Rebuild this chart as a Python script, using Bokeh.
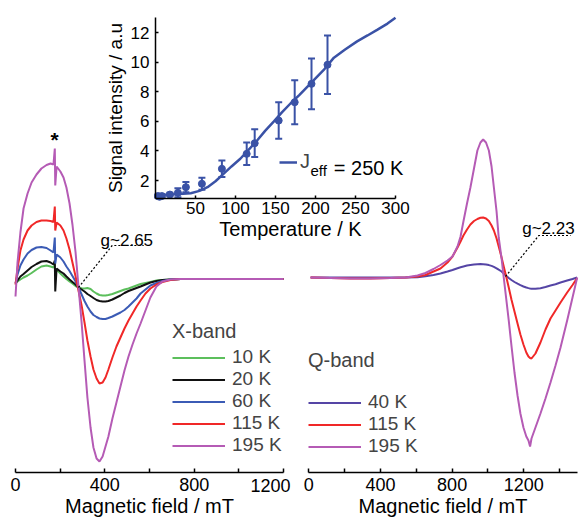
from bokeh.plotting import figure
from bokeh.models import (Range1d, LinearAxis, FixedTicker, Legend, LegendItem,
                          Label, Whisker, TeeHead, ColumnDataSource)
from bokeh.embed import file_html
from bokeh.resources import INLINE

# ---------------- data: X-band (left panel), field in mT, intensity in a.u. ----------------
xband_field = [0, 9, 22, 36, 54, 72, 94, 116, 139, 157,
               170, 176, 178, 184, 201, 215, 228, 242, 255, 269,
               282, 296, 309, 322, 336, 349, 363, 376, 390, 403,
               416, 434, 452, 470, 488, 506, 524, 542, 560, 582,
               604, 631, 658, 694, 739, 828, 963, 1097, 1200]
xband_10K = [-5, -3, -1, 1, 3, 5.5, 9, 12, 13, 12,
             11, 14, 5, 9, 5, 2, -0.5, -3, -5, -7.5,
             -9, -9.8, -10, -9.5, -10.5, -13, -15, -16.5, -17, -17,
             -16.5, -15.5, -14, -12.5, -11, -10, -8.5, -7, -5.5, -4.5,
             -3.5, -2, -1.5, -1, -0.5, -0.5, -0.5, -0.5, -0.5]
xband_20K = [-5, -2, 2, 4.5, 8, 11.5, 14.5, 17, 17.5, 16,
             14, 18, -13, 10, 7, 5, 2, -1, -3.5, -6,
             -9, -11, -13, -15.5, -17.5, -19.5, -21.5, -22.5, -23, -23,
             -22.5, -21, -19, -17, -14.5, -12.5, -11, -9.5, -8, -6,
             -4, -2.5, -1.5, -1, -0.5, -0.5, -0.5, -0.5, -0.5]
xband_60K = [-5, 4, 13, 19, 25, 28.5, 31, 31.5, 30.5, 28,
             26, 41, 15, 24, 21, 17, 12, 7.5, 2.5, -3,
             -9, -16, -22.5, -28, -33, -36.5, -38.5, -40, -40.5, -40.5,
             -39.5, -38, -36, -34, -31.5, -28, -24, -20, -15, -11,
             -7, -4.5, -2.5, -1, -0.5, -0.5, -0.5, -0.5, -0.5]
xband_115K = [-6, 10, 28, 39, 48, 53, 56.5, 58, 58, 57.5,
              56.5, 72, 48, 56, 53, 48, 40, 29, 16, 2,
              -12, -27, -44, -62, -78, -91, -100, -105, -104, -99,
              -91, -79, -68, -59, -50, -42, -35, -28, -22, -15,
              -10, -6, -3.5, -1.5, -0.5, -0.5, -0.5, -0.5, -0.5]
xband_195K = [-18, 16, 46, 70, 85, 96, 104, 110, 113.5, 115,
              114, 130, 93, 112, 107, 101, 91, 75, 54, 26,
              -8, -44, -82, -119, -149, -169, -180, -183, -178, -168,
              -158, -140, -124, -108, -92, -78, -66, -55, -45, -32,
              -19, -8, -3, -1, -0.5, -0.5, -0.5, -0.5, -0.5]

# ---------------- data: Q-band (right panel) ----------------
qband_field = [10, 121, 233, 344, 456, 540, 607, 651, 696, 735,
               774, 802, 830, 847, 863, 883, 902, 922, 941, 958,
               973, 989, 1005, 1020, 1033, 1048, 1060, 1076, 1088, 1103,
               1116, 1131, 1148, 1165, 1181, 1198, 1214, 1226, 1235, 1243,
               1265, 1293, 1321, 1349, 1377, 1405, 1442, 1472, 1498]
qband_40K = [0, 0, 0, 0, 0, 0, 0.3, 1.2, 2.5, 4,
             6, 7.5, 9.3, 10.2, 11, 12, 12.6, 13, 13.3, 13.4,
             13.3, 13, 12.4, 11.6, 10.6, 9.2, 7.8, 6, 4, 1.5,
             -0.5, -2.5, -4.5, -6.2, -7.7, -9, -10, -10.6, -11, -11.2,
             -11.3, -10.7, -9.5, -8, -6.7, -5, -3, -1.5, 0]
qband_115K = [0, -0.5, -1, -1, -0.5, 0, 1, 2.5, 6, 9,
              15, 21, 30, 36, 42, 48, 53, 56.5, 58.5, 59.7,
              60, 59, 56.5, 52, 47, 39, 31, 20, 11, 0,
              -10, -22, -34, -46, -57, -67, -75, -79, -80.5, -81,
              -76, -65, -52, -41, -33, -25, -15, -7.5, -0.5]
qband_195K = [0, -0.5, -1, -1, -0.5, 0, 2, 4.5, 8.5, 12.5,
              17, 21, 31, 41, 56, 74, 90, 109, 127, 135,
              138, 135, 127, 111, 90, 66, 40, 19, 0, -23,
              -43, -68, -95, -118, -136, -150, -159, -163, -169, -161,
              -150, -136, -121, -105, -88, -70, -43, -20, 0]

# ---------------- data: inset (signal intensity vs temperature) ----------------
inset_T = [3, 5, 8, 18, 28, 38, 58, 83, 114, 124, 154, 174, 195, 215]
inset_I = [0.95, 0.9, 0.95, 1.05, 1.17, 1.55, 1.78, 2.79, 3.8, 4.52, 6.05, 7.29, 8.53, 9.82]
inset_err = [0.1, 0.1, 0.1, 0.12, 0.3, 0.35, 0.4, 0.56, 0.76, 0.94, 1.23, 1.49, 1.71, 1.97]
fit_T = [0, 20, 44, 55, 65, 75, 85, 95, 106, 116, 127, 137, 148, 158, 169, 180, 190, 200,
         210, 223, 237, 252, 265, 277, 290, 300]
fit_I = [1.03, 1.05, 1.14, 1.3, 1.55, 1.95, 2.45, 2.95, 3.47, 4.05, 4.7, 5.35, 6.0, 6.6,
         7.22, 7.78, 8.35, 8.9, 9.45, 10.3, 10.85, 11.4, 11.8, 12.18, 12.6, 13.0]

# tick labels
main_ticks = [0, 400, 800, 1200]
left_minor = [200, 600, 1000]
right_minor = [200, 600, 1000, 1400]
inset_xticks = [50, 100, 150, 200, 250, 300]
inset_yticks = [2, 4, 6, 8, 10, 12]

# annotation anchors (data coordinates)
g265_B = [282, 433, 574]
g265_I = [-9, 33, 33]
g223_B = [1098, 1284, 1461]
g223_I = [1, 42, 42]

# ---------------- layout / styling ----------------
W, H = 581, 519
FONT = "Liberation Sans"
C_GREEN, C_BLACK, C_BLUE = "#5cbf5c", "#111111", "#3b5bb5"
C_RED, C_PURPLE, C_QBLUE, C_INSET = "#f02828", "#b55bb5", "#5545a5", "#3a52a6"


def xr(px0, d0, s):
    return Range1d(d0 - px0 / s, d0 + (W - px0) / s)


def yr(py0, d0, s):
    return Range1d(d0 - (H - py0) / s, d0 + py0 / s)


p = figure(width=W, height=H, x_range=xr(15, 0, 268 / 1200), y_range=yr(278, 0, 1.0),
           x_axis_type=None, y_axis_type=None, toolbar_location=None,
           output_backend="svg", min_border=0, outline_line_color=None)
p.extra_x_ranges = {"rx": xr(308.3, 0, 215 / 1200), "ix": xr(155, 0, 0.8)}
p.extra_y_ranges = {"ry": yr(277, 0, 1.0), "iy": yr(32, 12, 14.8)}
p.background_fill_color = "white"
p.border_fill_color = "white"

# X-band curves
rx = []
for vals, col in [(xband_10K, C_GREEN), (xband_20K, C_BLACK), (xband_60K, C_BLUE),
                  (xband_115K, C_RED), (xband_195K, C_PURPLE)]:
    rx.append(p.line(xband_field, vals, line_color=col, line_width=2))

# Q-band curves
rq = []
for vals, col in [(qband_40K, C_QBLUE), (qband_115K, C_RED), (qband_195K, C_PURPLE)]:
    rq.append(p.line(qband_field, vals, line_color=col, line_width=2,
                     x_range_name="rx", y_range_name="ry"))

# pointer lines
p.line(g265_B, g265_I, line_color="black", line_width=1.2, line_dash="2 2")
p.line(g223_B, g223_I, line_color="black", line_width=1.2, line_dash="2 2",
       x_range_name="rx", y_range_name="ry")


def style_axis(ax, tick_size="18px", tick_len=4):
    ax.axis_line_width = 1.5
    ax.axis_line_color = "black"
    ax.major_tick_in = tick_len
    ax.major_tick_out = 0
    ax.minor_tick_in = tick_len
    ax.minor_tick_out = 0
    ax.major_tick_line_width = 1.5
    ax.minor_tick_line_width = 1.5
    ax.major_tick_line_color = "black"
    ax.minor_tick_line_color = "black"
    ax.major_label_text_font = FONT
    ax.major_label_text_font_size = tick_size
    ax.major_label_text_color = "black"
    ax.axis_label_text_font = FONT
    ax.axis_label_text_font_size = "20px"
    ax.axis_label_text_font_style = "normal"
    ax.axis_label_text_color = "black"


ax_l = LinearAxis(fixed_location=-194, bounds=(0, 1200),
                  ticker=FixedTicker(ticks=main_ticks, minor_ticks=left_minor),
                  axis_label="Magnetic field / mT",
                  major_label_overrides={1200: ""})
style_axis(ax_l)
ax_l.major_label_standoff = 5
ax_l.axis_label_standoff = 1
p.add_layout(ax_l, "below")
# the last left tick label sits slightly left of its tick in the original
p.add_layout(Label(x=main_ticks[-1], y=-207, x_offset=-13, text="1200", text_font=FONT,
                   text_font_size="18px", text_align="center", text_baseline="alphabetic",
                   text_color="black"))

ax_r = LinearAxis(x_range_name="rx", y_range_name="ry", fixed_location=-195, bounds=(0, 1500),
                  ticker=FixedTicker(ticks=main_ticks, minor_ticks=right_minor),
                  axis_label="Magnetic field / mT")
style_axis(ax_r)
ax_r.major_label_standoff = 5
ax_r.axis_label_standoff = 1
p.add_layout(ax_r, "below")

# inset
src = ColumnDataSource(dict(T=inset_T, I=inset_I,
                            lo=[i - e for i, e in zip(inset_I, inset_err)],
                            hi=[i + e for i, e in zip(inset_I, inset_err)]))
r_fit = p.line(fit_T, fit_I, line_color=C_INSET, line_width=2.5,
               x_range_name="ix", y_range_name="iy")
wh = Whisker(source=src, base="T", lower="lo", upper="hi", dimension="height",
             line_color=C_INSET, line_width=2,
             upper_head=TeeHead(size=7, line_color=C_INSET, line_width=2),
             lower_head=TeeHead(size=7, line_color=C_INSET, line_width=2),
             x_range_name="ix", y_range_name="iy")
p.add_layout(wh)
p.scatter("T", "I", source=src, size=7, color=C_INSET, x_range_name="ix", y_range_name="iy")

ax_ix = LinearAxis(x_range_name="ix", y_range_name="iy", fixed_location=0.78, bounds=(0, 300),
                   ticker=FixedTicker(ticks=inset_xticks))
style_axis(ax_ix, tick_size="17px", tick_len=3)
ax_ix.major_label_standoff = 3
p.add_layout(ax_ix, "below")

ax_iy = LinearAxis(x_range_name="ix", y_range_name="iy", fixed_location=0, bounds=(0.78, 13.0),
                   ticker=FixedTicker(ticks=inset_yticks), axis_label="Signal intensity / a.u")
style_axis(ax_iy, tick_size="17px", tick_len=3)
ax_iy.axis_label_text_font_size = "19px"
ax_iy.major_label_standoff = 6
ax_iy.axis_label_standoff = 2
p.add_layout(ax_iy, "left")

p.add_layout(Label(x=168.75, y=-1.28, x_range_name="ix", y_range_name="iy",
                   text="Temperature / K", text_font=FONT, text_font_size="20px",
                   text_align="center", text_baseline="alphabetic", text_color="black"))

# texts
p.add_layout(Label(x=175, y=139, text="*", text_font=FONT, text_font_size="21px",
                   text_font_style="bold", text_align="center", text_baseline="alphabetic",
                   text_color="black"))
p.add_layout(Label(x=381, y=38, text="g~2.65", text_font=FONT, text_font_size="17px",
                   text_align="left", text_baseline="alphabetic", text_color="black"))
p.add_layout(Label(x=1191, y=49, x_range_name="rx", y_range_name="ry", text="g~2.23",
                   text_font=FONT, text_font_size="17px", text_align="left",
                   text_baseline="alphabetic", text_color="black"))


def make_legend(items, loc, title=None, standoff=3, spacing=0, gw=53, size="19px", h=21):
    kw = dict(items=items, location=loc, glyph_width=gw, glyph_height=h, label_height=h,
              label_standoff=7, spacing=spacing, padding=0, margin=0,
              border_line_color=None, background_fill_alpha=0,
              label_text_font=FONT, label_text_font_size=size)
    if title:
        kw.update(title=title, title_text_font=FONT, title_text_font_size="20px",
                  title_text_font_style="normal", title_standoff=standoff)
    return Legend(**kw)


leg_x = make_legend([LegendItem(label=l, renderers=[r]) for l, r in
                     zip(["10 K", "20 K", "60 K", "115 K", "195 K"], rx)],
                    (172, 63), title="X-band", standoff=3, spacing=0)
leg_q = make_legend([LegendItem(label=l, renderers=[r]) for l, r in
                     zip(["40 K", "115 K", "195 K"], rq)],
                    (308, 62), title="Q-band", standoff=19, spacing=0)
leg_i = make_legend([LegendItem(label="J", renderers=[r_fit])], (279, 346),
                    gw=18, size="20px", h=20)
leg_i.label_standoff = 3
for lg in (leg_x, leg_q, leg_i):
    p.add_layout(lg)

p.add_layout(Label(x=193.75, y=2.676, x_range_name="ix", y_range_name="iy", text="eff",
                   text_font=FONT, text_font_size="15px", text_align="left",
                   text_baseline="alphabetic", text_color="black"))
p.add_layout(Label(x=222.9, y=2.878, x_range_name="ix", y_range_name="iy", text="= 250 K",
                   text_font=FONT, text_font_size="20px", text_align="left",
                   text_baseline="alphabetic", text_color="black"))

open("out.html", "w").write(file_html(p, INLINE))
